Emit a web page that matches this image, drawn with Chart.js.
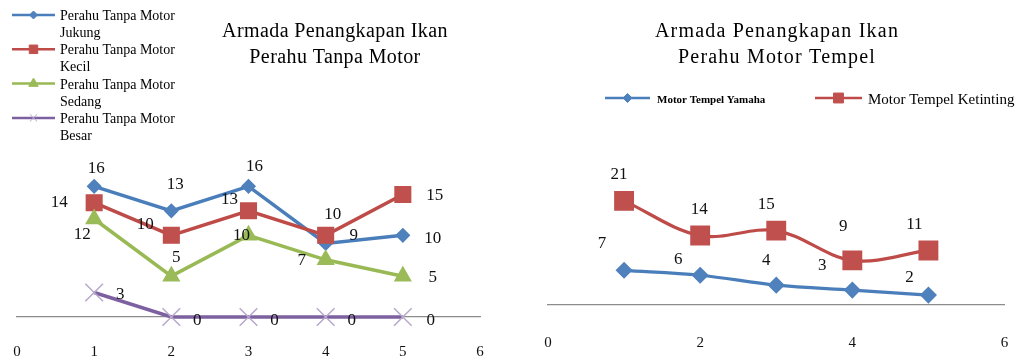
<!DOCTYPE html>
<html><head><meta charset="utf-8">
<script src="https://cdn.jsdelivr.net/npm/chart.js@4.4.1/dist/chart.umd.min.js"></script>
<style>
html,body{margin:0;padding:0;background:#fff;width:1019px;height:362px;overflow:hidden}
#c1{position:absolute;left:0;top:0}
#c2{position:absolute;left:510px;top:0}
</style></head><body>
<canvas id="c1" width="510" height="362"></canvas>
<canvas id="c2" width="509" height="362"></canvas>
<script>
// ---- data ----
const xValues = [1, 2, 3, 4, 5];
const leftTitle = ['Armada Penangkapan Ikan', 'Perahu Tanpa Motor'];
const leftSeriesNames = [
  ['Perahu Tanpa Motor', 'Jukung'],
  ['Perahu Tanpa Motor', 'Kecil'],
  ['Perahu Tanpa Motor', 'Sedang'],
  ['Perahu Tanpa Motor', 'Besar']
];
const jukung = [16, 13, 16, 9, 10];
const kecil = [14, 10, 13, 10, 15];
const sedang = [12, 5, 10, 7, 5];
const besar = [3, 0, 0, 0, 0];
const leftTicks = [0, 1, 2, 3, 4, 5, 6];

const rightTitle = ['Armada Penangkapan Ikan', 'Perahu Motor Tempel'];
const rightSeriesNames = ['Motor Tempel Yamaha', 'Motor Tempel Ketinting'];
const yamaha = [7, 6, 4, 3, 2];
const ketinting = [21, 14, 15, 9, 11];
const rightTicks = [0, 2, 4, 6];

// ---- styling ----
const FONT = '"Liberation Serif", "Times New Roman", serif';
const BLUE = '#4A7EBB', RED = '#BE4B48', GREEN = '#98B954', PURPLE = '#7D60A0', LPURPLE = '#B7A8CC';

function marker(ctx, style, x, y, r, fill, stroke, lw) {
  ctx.save();
  ctx.beginPath();
  ctx.fillStyle = fill; ctx.strokeStyle = stroke; ctx.lineWidth = lw;
  if (style === 'rectRot') {
    ctx.moveTo(x - r, y); ctx.lineTo(x, y - r); ctx.lineTo(x + r, y); ctx.lineTo(x, y + r); ctx.closePath();
    ctx.fill(); ctx.stroke();
  } else if (style === 'rect') {
    const s = r * Math.SQRT1_2; ctx.rect(x - s, y - s, 2 * s, 2 * s); ctx.fill(); ctx.stroke();
  } else if (style === 'triangle') {
    let a = 0;
    ctx.moveTo(x + Math.sin(a) * r, y - Math.cos(a) * r);
    a += 2 * Math.PI / 3; ctx.lineTo(x + Math.sin(a) * r, y - Math.cos(a) * r);
    a += 2 * Math.PI / 3; ctx.lineTo(x + Math.sin(a) * r, y - Math.cos(a) * r);
    ctx.closePath(); ctx.fill(); ctx.stroke();
  } else if (style === 'crossRot') {
    const s = r * Math.SQRT1_2;
    ctx.moveTo(x - s, y - s); ctx.lineTo(x + s, y + s);
    ctx.moveTo(x - s, y + s); ctx.lineTo(x + s, y - s); ctx.stroke();
  }
  ctx.restore();
}

const decor = {
  id: 'decor',
  afterDraw(chart, args, o) {
    const ctx = chart.ctx;
    ctx.save();
    ctx.fillStyle = '#000';
    // title
    ctx.textAlign = 'center'; ctx.textBaseline = 'alphabetic';
    ctx.font = o.titleFont;
    if ('letterSpacing' in ctx) ctx.letterSpacing = o.titleSpacing;
    o.title.forEach((t, i) => ctx.fillText(t, o.titleX, o.titleY[i]));
    if ('letterSpacing' in ctx) ctx.letterSpacing = '0px';
    // legend
    ctx.textAlign = 'left';
    o.legend.forEach((it, i) => {
      const ds = chart.data.datasets[i];
      ctx.save();
      ctx.strokeStyle = ds.borderColor; ctx.lineWidth = it.lw;
      ctx.beginPath(); ctx.moveTo(it.x0, it.y); ctx.lineTo(it.x1, it.y); ctx.stroke();
      ctx.restore();
      marker(ctx, ds.pointStyle, (it.x0 + it.x1) / 2, it.y, it.r, ds.pointBackgroundColor, ds.pointBorderColor, it.mlw);
      ctx.fillStyle = '#000';
      ctx.font = it.font;
      it.lines.forEach((t, k) => ctx.fillText(t, it.tx, it.y + it.dy + k * it.lh));
    });
    // data labels
    ctx.font = o.labelFont; ctx.textAlign = 'center'; ctx.textBaseline = 'middle';
    ctx.fillStyle = '#111';
    chart.data.datasets.forEach((ds, i) => {
      const meta = chart.getDatasetMeta(i);
      meta.data.forEach((pt, j) => {
        const off = o.labelOffsets[i][j];
        ctx.fillText(String(ds.data[j].y), pt.x + off[0], pt.y + off[1]);
      });
    });
    ctx.restore();
  }
};

function series(vals) { return xValues.map((x, k) => ({ x: x, y: vals[k] })); }

function xScale(ticks, pad, h) {
  return {
    type: 'linear', min: 0, max: 6,
    afterBuildTicks: s => { s.ticks = ticks.map(v => ({ value: v })); },
    afterFit: s => { s.paddingLeft = 0; s.paddingRight = 0; s.height = h; },
    grid: { display: false, drawTicks: false },
    border: { display: true, color: '#8C8C8C', width: 1.2 },
    ticks: { color: '#111', padding: pad, font: { family: FONT, size: 15 }, maxRotation: 0 }
  };
}

// ---- left chart ----
new Chart(document.getElementById('c1'), {
  type: 'line',
  data: {
    datasets: [
      { label: leftSeriesNames[0].join(' '), data: series(jukung), borderColor: BLUE, pointBackgroundColor: '#4F81BD', pointBorderColor: '#4F81BD',
        pointStyle: 'rectRot', pointRadius: 6.5, pointBorderWidth: 1.5, borderWidth: 3.5, order: 3 },
      { label: leftSeriesNames[1].join(' '), data: series(kecil), borderColor: RED, pointBackgroundColor: '#C0504D', pointBorderColor: '#C0504D',
        pointStyle: 'rect', pointRadius: 11, pointBorderWidth: 1.5, borderWidth: 3.5, order: 2 },
      { label: leftSeriesNames[2].join(' '), data: series(sedang), borderColor: GREEN, pointBackgroundColor: '#9BBB59', pointBorderColor: '#9BBB59',
        pointStyle: 'triangle', pointRadius: 9, pointBorderWidth: 1.5, borderWidth: 3.5, order: 1 },
      { label: leftSeriesNames[3].join(' '), data: series(besar), borderColor: PURPLE, pointBackgroundColor: LPURPLE, pointBorderColor: LPURPLE,
        pointStyle: 'crossRot', pointRadius: 12.5, pointBorderWidth: 1.5, borderWidth: 3.5, order: 0 }
    ].map(d => Object.assign(d, { tension: 0, clip: false, fill: false }))
  },
  options: {
    responsive: false, animation: false, events: [],
    layout: { padding: { left: 17, right: 30, top: 170, bottom: 1 } },
    scales: {
      x: xScale(leftTicks, 26, 44),
      y: { display: false, min: 0, max: 18 }
    },
    plugins: {
      legend: { display: false }, tooltip: { enabled: false }, title: { display: false },
      decor: {
        title: leftTitle, titleX: 335, titleY: [37, 63], titleFont: '20px ' + FONT, titleSpacing: '0.4px',
        legend: leftSeriesNames.map((lines, i) => ({
          lines: lines, x0: 12, x1: 55, y: 15 + 34.3 * i, tx: 60, dy: 5, lh: 17, lw: 2.5,
          r: [4, 6, 5.5, 5][i], mlw: 1, font: '14px ' + FONT
        })),
        labelFont: '17px ' + FONT,
        labelOffsets: [
          [[2, -18], [4, -26], [6, -20], [28, -8], [30, 3]],
          [[-35, 0], [-26, -11], [-19, -11], [7, -21], [32, 1]],
          [[-12, 16], [5, -19], [-7, 0], [-24, 1], [30, 1]],
          [[26, 2], [26, 4], [26, 4], [26, 4], [28, 4]]
        ]
      }
    }
  },
  plugins: [decor]
});

// ---- right chart ----
new Chart(document.getElementById('c2'), {
  type: 'line',
  data: {
    datasets: [
      { label: rightSeriesNames[0], data: series(yamaha), borderColor: BLUE, pointBackgroundColor: '#4F81BD', pointBorderColor: '#4F81BD',
        pointStyle: 'rectRot', pointRadius: 7.5, pointBorderWidth: 1.5, borderWidth: 3.2, order: 1 },
      { label: rightSeriesNames[1], data: series(ketinting), borderColor: RED, pointBackgroundColor: '#C0504D', pointBorderColor: '#C0504D',
        pointStyle: 'rect', pointRadius: 13, pointBorderWidth: 1.5, borderWidth: 3.2, order: 0 }
    ].map(d => Object.assign(d, { tension: 0.35, clip: false, fill: false }))
  },
  options: {
    responsive: false, animation: false, events: [],
    layout: { padding: { left: 38, right: 9, top: 181, bottom: 10 } },
    scales: {
      x: xScale(rightTicks, 29, 47),
      y: { display: false, min: 0, max: 25 }
    },
    plugins: {
      legend: { display: false }, tooltip: { enabled: false }, title: { display: false },
      decor: {
        title: rightTitle, titleX: 267, titleY: [37, 63], titleFont: '20px ' + FONT, titleSpacing: '1.2px',
        legend: [
          { lines: [rightSeriesNames[0]], x0: 95, x1: 140, y: 98, tx: 147, dy: 5, lh: 0, lw: 2.5, r: 4.5, mlw: 1, font: 'bold 11px ' + FONT },
          { lines: [rightSeriesNames[1]], x0: 305, x1: 352, y: 98, tx: 358, dy: 6, lh: 0, lw: 2.5, r: 7, mlw: 1, font: '15px ' + FONT }
        ],
        labelFont: '17px ' + FONT,
        labelOffsets: [
          [[-22, -27], [-22, -16], [-10, -25], [-30, -25], [-19, -18]],
          [[-5, -26], [-1, -26], [-10, -26], [-9, -34], [-14, -26]]
        ]
      }
    }
  },
  plugins: [decor]
});
</script>
</body></html>
